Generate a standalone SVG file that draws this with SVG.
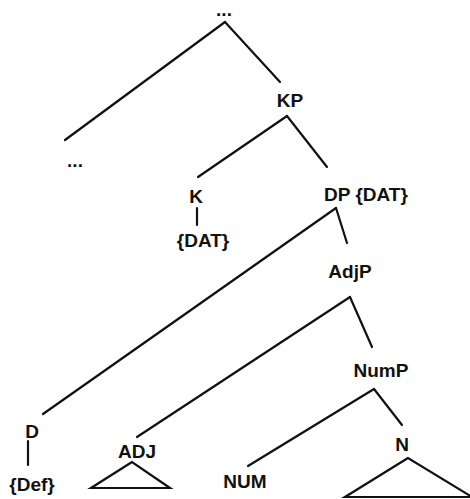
<svg xmlns="http://www.w3.org/2000/svg" width="470" height="499" viewBox="0 0 470 499">
<style>
.l{font-family:"Liberation Sans",Arial,sans-serif;font-weight:bold;font-size:19px;fill:#111;text-anchor:middle}
.e{stroke:#111;stroke-width:2.2;fill:none;stroke-linecap:round}
</style>
<rect width="470" height="499" fill="#fff"/>
<g id="connectors" class="e">
<line x1="225" y1="22" x2="65" y2="140"/>
<line x1="225" y1="22" x2="280" y2="82"/>
<line x1="287" y1="116" x2="198" y2="177"/>
<line x1="287" y1="116" x2="327" y2="167"/>
<line x1="197" y1="208" x2="197" y2="225"/>
<line x1="336" y1="208" x2="43" y2="414"/>
<line x1="336" y1="208" x2="347" y2="243"/>
<line x1="350" y1="297" x2="137" y2="437"/>
<line x1="350" y1="297" x2="372" y2="347"/>
<line x1="374" y1="389" x2="248" y2="466"/>
<line x1="374" y1="389" x2="402" y2="425"/>
<line x1="28" y1="441" x2="28" y2="465"/>
<polygon points="132,462 91,488 170,488" stroke-linejoin="miter"/>
<polygon points="408,458 345,497 472,497" stroke-linejoin="miter"/>
</g>
<g id="top"><text class="l" x="224" y="16" font-size="16">...</text></g>
<g id="left-dots"><text class="l" x="75" y="167" font-size="17">...</text></g>
<g id="KP"><text class="l" x="290" y="107">KP</text></g>
<g id="K"><text class="l" x="196" y="203">K</text></g>
<g id="K-DAT"><text class="l" x="203" y="247">{DAT}</text></g>
<g id="DP"><text class="l" x="366" y="201">DP {DAT}</text></g>
<g id="AdjP"><text class="l" x="350" y="278">AdjP</text></g>
<g id="NumP"><text class="l" x="381" y="377">NumP</text></g>
<g id="D"><text class="l" x="32" y="438">D</text></g>
<g id="Def"><text class="l" x="32" y="491">{Def}</text></g>
<g id="ADJ"><text class="l" x="137" y="458">ADJ</text></g>
<g id="NUM"><text class="l" x="245" y="488">NUM</text></g>
<g id="N"><text class="l" x="402" y="451">N</text></g>
</svg>
